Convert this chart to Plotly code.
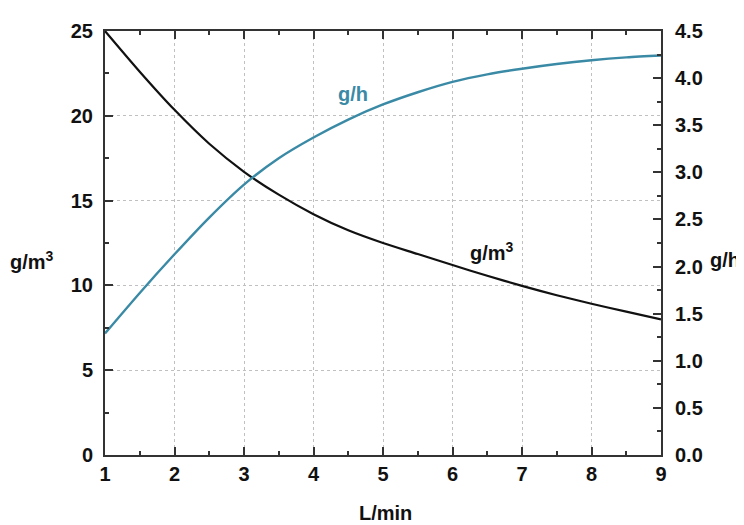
import plotly.graph_objects as go

flow = [1, 1.5, 2, 2.5, 3, 3.5, 4, 4.5, 5, 5.5, 6, 6.5, 7, 7.5, 8, 8.5, 9]
conc_gm3 = [25.0, 22.6, 20.35, 18.35, 16.7, 15.35, 14.2, 13.25, 12.5, 11.85, 11.2, 10.57, 9.97, 9.42, 8.92, 8.45, 8.0]
rate_gh = [1.29, 1.72, 2.13, 2.52, 2.87, 3.15, 3.37, 3.56, 3.72, 3.85, 3.96, 4.04, 4.10, 4.15, 4.19, 4.22, 4.24]

FONT = "Liberation Sans, Arial, sans-serif"
TEAL = "#3a8aa6"
TXT = dict(family=FONT, size=20, color="#111111", weight="bold")

fig = go.Figure()
fig.add_trace(go.Scatter(x=flow, y=conc_gm3, mode="lines", line=dict(color="#111111", width=2.2, shape="spline", smoothing=0.8),
                         yaxis="y", showlegend=False))
fig.add_trace(go.Scatter(x=flow, y=rate_gh, mode="lines", line=dict(color=TEAL, width=2.4, shape="spline", smoothing=0.8),
                         yaxis="y2", showlegend=False))

axis_common = dict(showline=True, linecolor="#333333", linewidth=2, ticks="inside", ticklen=8, tickwidth=2,
                   tickcolor="#333333", tickfont=TXT, zeroline=False)

fig.update_layout(
    width=736, height=517,
    margin=dict(l=97, r=83, t=15, b=70),
    paper_bgcolor="white", plot_bgcolor="white",
    xaxis=dict(range=[1, 9], dtick=1, tick0=1, mirror="ticks", showgrid=True, gridcolor="#c0c0c0",
               griddash="dot", gridwidth=1,
               minor=dict(dtick=0.5, ticks="inside", ticklen=4, tickcolor="#333333", tickwidth=1.5, showgrid=False),
               ticklabelstandoff=0, **axis_common),
    yaxis=dict(range=[0, 25], dtick=5, showgrid=True, gridcolor="#c0c0c0", griddash="dot", gridwidth=1,
               minor=dict(dtick=2.5, ticks="inside", ticklen=4, tickcolor="#333333", tickwidth=1.5, showgrid=False),
               ticklabelstandoff=6, **axis_common),
    yaxis2=dict(range=[0, 4.5], dtick=0.5, tickformat=".1f", overlaying="y", side="right", showgrid=False,
                minor=dict(dtick=0.25, ticks="inside", ticklen=4, tickcolor="#333333", tickwidth=1.5),
                ticklabelstandoff=8, **axis_common),
    annotations=[
        dict(x=4.57, y=21.3, xref="x", yref="y", text="g/h", showarrow=False,
             font=dict(TXT, color=TEAL)),
        dict(x=6.57, y=12.0, xref="x", yref="y", text="g/m<sup>3</sup>", showarrow=False, font=TXT),
        dict(x=-0.131, y=0.458, xref="paper", yref="paper", text="g/m<sup>3</sup>", showarrow=False, font=TXT,
             xanchor="center", yanchor="middle"),
        dict(x=1.145, y=0.461, xref="paper", yref="paper", text="g/h", showarrow=False, font=TXT,
             xanchor="right", yanchor="middle"),
        dict(x=0.504, y=-0.137, xref="paper", yref="paper", text="L/min", showarrow=False, font=TXT,
             xanchor="center", yanchor="middle"),
    ],
)

fig.write_html("out.html")
